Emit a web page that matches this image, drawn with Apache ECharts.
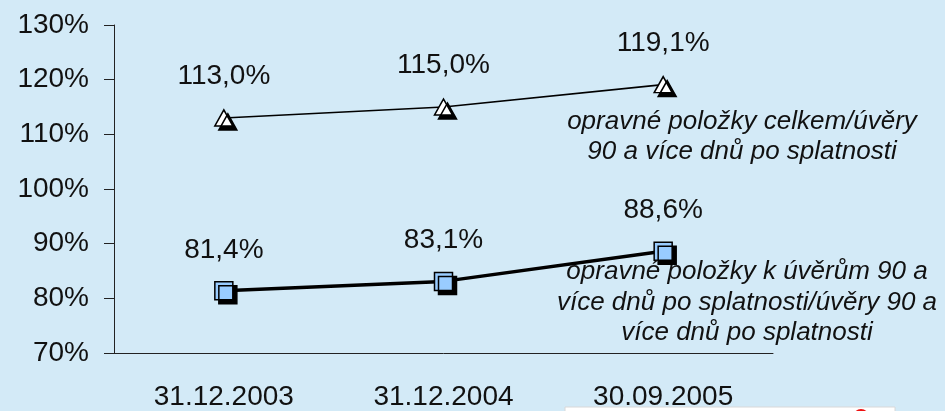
<!DOCTYPE html>
<html>
<head>
<meta charset="utf-8">
<script src="https://cdn.jsdelivr.net/npm/echarts@6/dist/echarts.min.js"></script>
<style>
  html, body { margin: 0; padding: 0; background: #D3EAF7; }
  #chart { width: 945px; height: 411px; }
</style>
</head>
<body>
<div id="chart"></div>
<script>
// Reporting dates
const categories = ['31.12.2003', '31.12.2004', '30.09.2005'];
// Total provisions / loans 90+ days past due (%)
const totalProvisions = [113.0, 115.0, 119.1];
// Provisions for loans 90+ days past due / loans 90+ days past due (%)
const overdueProvisions = [81.4, 83.1, 88.6];
// Value axis range and step
const yMin = 70, yMax = 130, yStep = 10;

const FONT = 'Liberation Sans, Arial, sans-serif';
const fmtPct = v => v.toFixed(1).replace('.', ',') + '%';

const chart = echarts.init(document.getElementById('chart'), null, { renderer: 'canvas' });

chart.setOption({
  backgroundColor: '#D3EAF7',
  animation: false,
  grid: { left: 114, right: 172, top: 25, bottom: 58, containLabel: false },
  xAxis: {
    type: 'category',
    data: categories,
    boundaryGap: true,
    axisLine: { lineStyle: { color: '#222', width: 1 } },
    axisTick: { inside: true, length: 9, lineStyle: { color: '#222' } },
    axisLabel: { color: '#111', fontSize: 28, fontFamily: FONT, margin: 30 },
    splitLine: { show: false }
  },
  yAxis: {
    type: 'value',
    min: yMin, max: yMax, interval: yStep,
    axisLine: { show: true, lineStyle: { color: '#222', width: 1 } },
    axisTick: { show: true, length: 10, lineStyle: { color: '#222' } },
    axisLabel: { color: '#111', fontSize: 28, fontFamily: FONT, margin: 25, formatter: v => v + '%' },
    splitLine: { show: false }
  },
  series: [
    {
      name: 'opravné položky celkem/úvěry 90 a více dnů po splatnosti',
      type: 'line',
      data: totalProvisions,
      symbol: 'triangle',
      symbolSize: [18, 16],
      lineStyle: { color: '#000', width: 1.6 },
      itemStyle: {
        color: '#fff', borderColor: '#000', borderWidth: 1.5,
        shadowColor: '#000', shadowOffsetX: 4, shadowOffsetY: 4, shadowBlur: 0
      },
      label: {
        show: true, position: 'top', distance: 19,
        color: '#111', fontSize: 28, fontFamily: FONT,
        formatter: p => fmtPct(p.value)
      },
      z: 3
    },
    {
      name: 'opravné položky k úvěrům 90 a více dnů po splatnosti/úvěry 90 a více dnů po splatnosti',
      type: 'line',
      data: overdueProvisions,
      symbol: 'rect',
      symbolSize: 18,
      lineStyle: { color: '#000', width: 3.5 },
      itemStyle: {
        color: '#99CCFF', borderColor: '#000', borderWidth: 1.5,
        shadowColor: '#000', shadowOffsetX: 4, shadowOffsetY: 4, shadowBlur: 0
      },
      label: {
        show: true, position: 'top', distance: 17,
        color: '#111', fontSize: 28, fontFamily: FONT,
        formatter: p => fmtPct(p.value)
      },
      z: 4
    }
  ],
  graphic: [
    {
      type: 'text', z: 10,
      x: 742, y: 107,
      style: {
        text: 'opravné položky celkem/úvěry\n90 a více dnů po splatnosti',
        font: 'italic 26px ' + FONT, fill: '#111',
        align: 'center', verticalAlign: 'top', lineHeight: 30
      }
    },
    {
      type: 'text', z: 10,
      x: 747, y: 257,
      style: {
        text: 'opravné položky k úvěrům 90 a\nvíce dnů po splatnosti/úvěry 90 a\nvíce dnů po splatnosti',
        font: 'italic 26px ' + FONT, fill: '#111',
        align: 'center', verticalAlign: 'top', lineHeight: 30.5
      }
    },
    {
      type: 'rect', z: 1,
      shape: { x: 565, y: 407, width: 330, height: 20 },
      style: { fill: '#fff', stroke: '#d8d8d8', lineWidth: 1 }
    },
    {
      type: 'circle', z: 2,
      shape: { cx: 861, cy: 417, r: 8 },
      style: { fill: '#ee1111' }
    }
  ]
});
</script>
</body>
</html>
